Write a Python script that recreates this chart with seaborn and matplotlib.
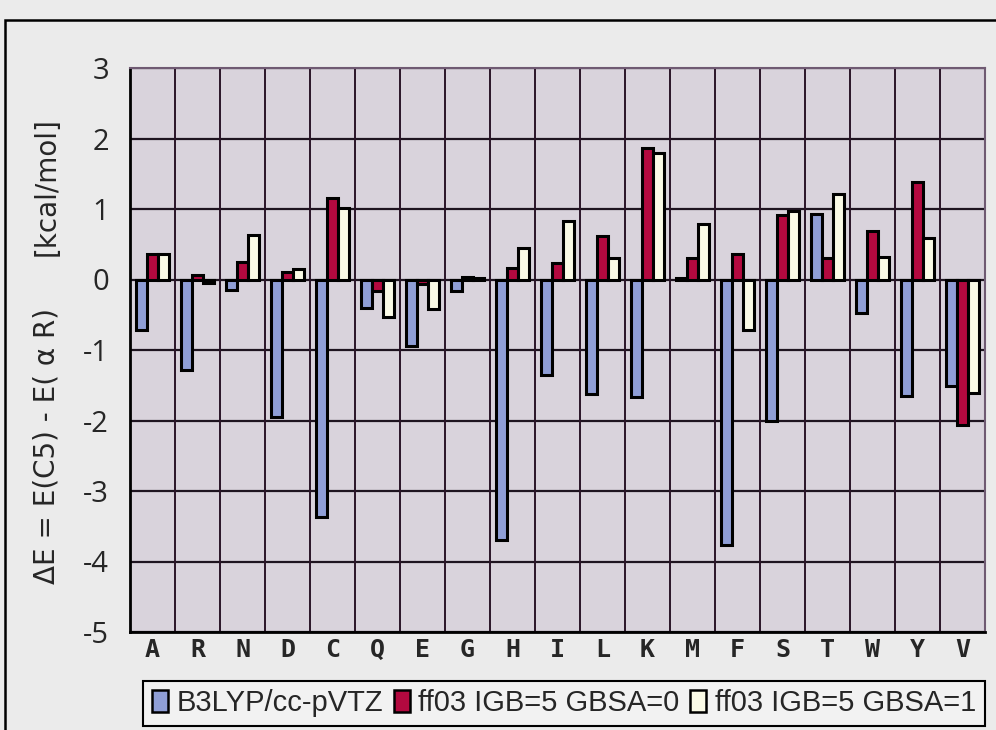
import matplotlib
matplotlib.use("Agg")
import matplotlib.pyplot as plt
import matplotlib.patches as mpatches
import seaborn as sns
import pandas as pd

# Amino acids (one-letter codes) along the x axis
residues = ["A", "R", "N", "D", "C", "Q", "E", "G", "H", "I",
            "L", "K", "M", "F", "S", "T", "W", "Y", "V"]

# Energy differences E(C5) - E(alphaR) in kcal/mol
b3lyp = [-0.71, -1.29, -0.15, -1.95, -3.37, -0.40, -0.95, -0.17, -3.69, -1.36,
         -1.62, -1.67, 0.02, -3.77, -2.00, 0.93, -0.48, -1.65, -1.51]
ff03_gbsa0 = [0.36, 0.07, 0.25, 0.10, 1.16, -0.17, -0.07, 0.03, 0.17, 0.24,
              0.62, 1.87, 0.30, 0.36, 0.92, 0.30, 0.69, 1.38, -2.07]
ff03_gbsa1 = [0.36, -0.05, 0.63, 0.15, 1.01, -0.53, -0.42, 0.02, 0.44, 0.83,
              0.31, 1.80, 0.79, -0.71, 0.97, 1.21, 0.32, 0.59, -1.61]

methods = ["B3LYP/cc-pVTZ", "ff03 IGB=5 GBSA=0", "ff03 IGB=5 GBSA=1"]
colors = ["#8f9ed6", "#b3093f", "#fafae6"]
yticks = list(range(-5, 4))

df = pd.DataFrame({
    "residue": residues * 3,
    "dE": b3lyp + ff03_gbsa0 + ff03_gbsa1,
    "method": [methods[0]] * len(residues) + [methods[1]] * len(residues)
              + [methods[2]] * len(residues),
})

sns.set_style("white")
plt.rcParams["font.family"] = ["Open Sans", "DejaVu Sans"]

fig = plt.figure(figsize=(9.96, 7.30), dpi=100, facecolor="#ebebeb")
ax = fig.add_axes([130 / 996, 1 - 632 / 730, 855 / 996, 564 / 730])
ax.set_facecolor("#d9d3dc")

sns.barplot(data=df, x="residue", y="dE", hue="method", order=residues,
            hue_order=methods, palette=colors, edgecolor="black",
            linewidth=2.2, width=0.74, saturation=1, errorbar=None,
            legend=False, ax=ax, zorder=3)

ax.set_ylim(-5, 3)
ax.set_xlim(-0.5, len(residues) - 0.5)
ax.set_yticks(yticks)
ax.set_yticklabels([str(v) for v in yticks], fontsize=21,
                   family=["Open Sans", "DejaVu Sans"])
ax.set_xticks(range(len(residues)))
ax.set_xticklabels(residues, fontsize=18, fontweight="bold",
                   family="DejaVu Sans Mono")
ax.tick_params(axis="y", length=4, width=2, pad=11, color="black")
ax.tick_params(axis="x", length=0, pad=4)
ax.set_xlabel("")
ax.set_ylabel("")

# Axis title, split into the quantity and its unit
fig.text(47 / 996, 1 - 446 / 730, "ΔE = E(C5) - E( α R)", rotation=90,
         ha="center", va="center", fontsize=20, family="DejaVu Sans")
fig.text(47 / 996, 1 - 187 / 730, "[kcal/mol]", rotation=90,
         ha="center", va="center", fontsize=20, family="DejaVu Sans")

# Grid: horizontal at each integer, vertical between residues
for y in yticks:
    ax.axhline(y, color="#1e1420", lw=1.6, zorder=1)
for i in range(len(residues) + 1):
    ax.axvline(i - 0.5, color="#2a1428", lw=1.4, zorder=1)

for side in ["top", "right"]:
    ax.spines[side].set_color("#6f5a72")
    ax.spines[side].set_linewidth(1.5)
for side in ["left", "bottom"]:
    ax.spines[side].set_color("black")
    ax.spines[side].set_linewidth(2)

# Legend in a boxed row beneath the axis
handles = [mpatches.Patch(facecolor=c, edgecolor="black", linewidth=1.8)
           for c in colors]
leg = fig.legend(handles, methods, loc="lower left",
                 bbox_to_anchor=(143 / 996, 1 - 726 / 730, 842 / 996, 47 / 730),
                 mode="expand", ncol=3, frameon=True, fancybox=False,
                 edgecolor="black", facecolor="#f2f2f2", framealpha=1,
                 handlelength=0.55, handleheight=0.8, handletextpad=0.3,
                 columnspacing=0.4, borderaxespad=0, borderpad=0.3,
                 prop={"family": ["Liberation Sans", "DejaVu Sans"],
                       "size": 21})
leg.get_frame().set_linewidth(1.5)

# Outer frame around the whole chart
fig.patches.append(mpatches.Rectangle((5 / 996, -0.02), 1.05, 1 - 20 / 730 + 0.02,
                                      transform=fig.transFigure, fill=False,
                                      edgecolor="black", lw=1.8))

fig.savefig("out.png", dpi=100, facecolor=fig.get_facecolor())
